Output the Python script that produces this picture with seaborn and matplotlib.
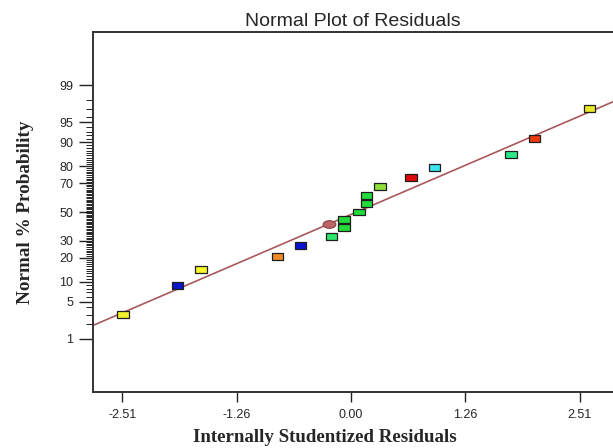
from statistics import NormalDist
import numpy as np
import pandas as pd
import seaborn as sns
import matplotlib.pyplot as plt

sns.set_theme(style="white")
plt.rcParams["font.family"] = ["Liberation Sans", "DejaVu Sans"]

# internally studentized residuals and their normal % probability
residuals = [-2.50, -1.90, -1.645, -0.808, -0.552, -0.212, -0.077, -0.077, 0.088,
             0.172, 0.172, 0.318, 0.658, 0.918, 1.754, 2.01, 2.613]
probability = [2.97, 8.96, 14.8, 20.7, 26.9, 32.6, 38.7, 44.4, 50.0,
               56.0, 61.8, 67.7, 73.5, 79.5, 85.5, 91.2, 97.1]
point_colors = ["#f2f22a", "#0a14c8", "#f7f52c", "#f08a26", "#0a10d0", "#2ee86e",
                "#22dc3c", "#22dc3c", "#22dc3c", "#22dc3c", "#22dc3c", "#8fe03a",
                "#dc0a0a", "#3ae4f0", "#2ee68a", "#ee3a10", "#eaea28"]

# highlighted run (oval marker)
oval_residual = [-0.245]
oval_probability = [41.5]

# fitted normal line: z = intercept + slope * residual
fit_slope = 0.719
fit_intercept = -0.045

y_major = [1, 5, 10, 20, 30, 50, 70, 80, 90, 95, 99]
y_minor = [p for p in range(1, 100) if p not in y_major]
x_ticks = [-2.51, -1.255, 0.0, 1.255, 2.51]
x_labels = ["-2.51", "-1.26", "0.00", "1.26", "2.51"]

nd = NormalDist()
probit = np.vectorize(lambda p: nd.inv_cdf(min(max(p / 100.0, 1e-12), 1 - 1e-12)),
                      otypes=[float])
unprobit = np.vectorize(lambda z: nd.cdf(z) * 100.0, otypes=[float])

df = pd.DataFrame({"res": residuals, "prob": probability,
                   "pt": [str(i) for i in range(len(residuals))]})
oval_df = pd.DataFrame({"res": oval_residual, "prob": oval_probability})

fig = plt.figure(figsize=(6.13, 4.48), dpi=100)
ax = fig.add_axes([93 / 613, 56 / 448, 1 - 93 / 613, 360 / 448])
ax.set_yscale("function", functions=(probit, unprobit))

xlim = (-2.83, 2.873)
ylim = (unprobit(-3.3), unprobit(3.3))

# fit line
line_x = np.array(xlim)
line_y = unprobit(fit_intercept + fit_slope * line_x)
sns.lineplot(x=line_x, y=line_y, ax=ax, color="#a8585c", linewidth=1.2)

rect = [(-1, -0.62), (1, -0.62), (1, 0.62), (-1, 0.62), (-1, -0.62)]
sns.scatterplot(data=df, x="res", y="prob", hue="pt", palette=point_colors,
                marker=rect, s=66, edgecolor="#1e1e1e", linewidth=0.9,
                legend=False, ax=ax, zorder=3)

t = np.linspace(0, 2 * np.pi, 40)
oval = list(zip(np.cos(t), 0.6 * np.sin(t)))
sns.scatterplot(data=oval_df, x="res", y="prob", color="#bb6464", marker=oval,
                s=84, edgecolor="#8a4444", linewidth=0.8, legend=False, ax=ax,
                zorder=3)

ax.set_xlim(*xlim)
ax.set_ylim(*ylim)
ax.set_yticks(y_major)
ax.set_yticklabels([str(v) for v in y_major])
ax.set_yticks(y_minor, minor=True)
ax.set_xticks(x_ticks)
ax.set_xticklabels(x_labels)

ax.tick_params(axis="y", which="major", direction="out", length=10, width=1,
               color="#222222", labelsize=9, pad=4, left=True)
ax.tick_params(axis="y", which="minor", direction="out", length=5, width=0.7,
               color="#222222", left=True)
ax.tick_params(axis="x", which="major", direction="out", length=7, width=1,
               color="#222222", labelsize=9, pad=5, bottom=True)

for side in ["left", "bottom", "top"]:
    ax.spines[side].set_color("#333333")
    ax.spines[side].set_linewidth(1.4)
ax.spines["right"].set_visible(False)

ax.set_title("Normal Plot of Residuals", fontsize=14, pad=4.5)
ax.set_xlabel("Internally Studentized Residuals", family=["Liberation Serif"],
              fontweight="bold", fontsize=13.6)
ax.set_ylabel("Normal % Probability", family=["Liberation Serif"],
              fontweight="bold", fontsize=13.8)
ax.xaxis.set_label_coords((325 - 93) / 520, -0.103)
ax.yaxis.set_label_coords(-(93 - 34) / 520, 0.5)

fig.savefig("out.png", dpi=100)
